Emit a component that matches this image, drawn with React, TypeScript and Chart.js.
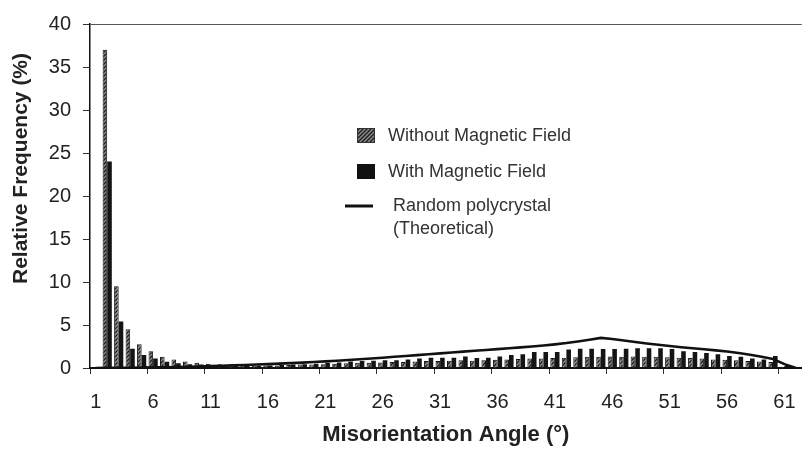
import React, { useEffect, useRef } from 'react';
import { Chart, registerables } from 'chart.js';

Chart.register(...registerables);

// ---------- data ----------
const angleLabels = [
  '1', '2', '3', '4', '5', '6', '7', '8', '9', '10',
  '11', '12', '13', '14', '15', '16', '17', '18', '19', '20',
  '21', '22', '23', '24', '25', '26', '27', '28', '29', '30',
  '31', '32', '33', '34', '35', '36', '37', '38', '39', '40',
  '41', '42', '43', '44', '45', '46', '47', '48', '49', '50',
  '51', '52', '53', '54', '55', '56', '57', '58', '59', '60',
  '61', '62',
];

const withoutField = [
  0, 37.0, 9.5, 4.5, 2.75, 1.95, 1.3, 1.0, 0.75, 0.6,
  0.5, 0.45, 0.4, 0.35, 0.3, 0.3, 0.3, 0.35, 0.4, 0.4,
  0.45, 0.5, 0.55, 0.6, 0.6, 0.65, 0.7, 0.7, 0.75, 0.8,
  0.8, 0.85, 0.9, 0.85, 0.9, 0.95, 1.0, 1.05, 1.1, 1.1,
  1.15, 1.2, 1.25, 1.3, 1.3, 1.35, 1.3, 1.35, 1.3, 1.3,
  1.25, 1.2, 1.15, 1.1, 1.0, 0.95, 0.9, 0.8, 0.75, 0.7,
  0.15, 0,
];

const withField = [
  0, 24.0, 5.4, 2.25, 1.5, 1.1, 0.72, 0.55, 0.45, 0.4,
  0.35, 0.3, 0.3, 0.25, 0.25, 0.3, 0.35, 0.4, 0.45, 0.5,
  0.6, 0.65, 0.75, 0.8, 0.85, 0.9, 0.9, 1.0, 1.1, 1.2,
  1.2, 1.2, 1.35, 1.15, 1.2, 1.35, 1.5, 1.6, 1.85, 1.85,
  1.85, 2.15, 2.25, 2.25, 2.2, 2.2, 2.25, 2.3, 2.3, 2.3,
  2.2, 1.95, 1.85, 1.75, 1.6, 1.4, 1.3, 1.1, 1.0, 1.4,
  0.25, 0,
];

const randomPolycrystal = [
  0, 0.01, 0.02, 0.03, 0.05, 0.07, 0.09, 0.12, 0.15, 0.18,
  0.22, 0.26, 0.3, 0.35, 0.4, 0.45, 0.51, 0.57, 0.63, 0.7,
  0.77, 0.85, 0.93, 1.01, 1.1, 1.2, 1.3, 1.4, 1.5, 1.6,
  1.7, 1.8, 1.9, 2.0, 2.1, 2.2, 2.3, 2.4, 2.5, 2.62,
  2.75, 2.9, 3.08, 3.28, 3.5, 3.38, 3.2, 3.02, 2.85, 2.7,
  2.55, 2.42, 2.3, 2.18, 2.05, 1.92, 1.75, 1.55, 1.3, 1.05,
  0.45, 0,
];

const yMin = 0;
const yMax = 40;
const yStep = 5;

const xTitle = 'Misorientation Angle (°)';
const yTitle = 'Relative Frequency (%)';
const seriesNames = ['Without Magnetic Field', 'With Magnetic Field', 'Random polycrystal', '(Theoretical)'];

const FONT = '"Liberation Sans", Arial, Helvetica, sans-serif';

function makeHatch(ctx: CanvasRenderingContext2D): CanvasPattern | string {
  const p = document.createElement('canvas');
  p.width = 4;
  p.height = 4;
  const c = p.getContext('2d');
  if (!c) return '#666';
  c.fillStyle = '#8c8c8c';
  c.fillRect(0, 0, 4, 4);
  c.strokeStyle = '#1e1e1e';
  c.lineWidth = 1.4;
  c.beginPath();
  c.moveTo(0, 4);
  c.lineTo(4, 0);
  c.moveTo(-1, 1);
  c.lineTo(1, -1);
  c.moveTo(3, 5);
  c.lineTo(5, 3);
  c.stroke();
  return ctx.createPattern(p, 'repeat') || '#666';
}

export default function App() {
  const ref = useRef<HTMLCanvasElement>(null);

  useEffect(() => {
    const canvas = ref.current;
    if (!canvas) return;
    const ctx = canvas.getContext('2d');
    if (!ctx) return;
    const hatch = makeHatch(ctx);

    const overlay = {
      id: 'overlay',
      afterDraw(chart: any) {
        const c: CanvasRenderingContext2D = chart.ctx;
        // y axis title
        c.save();
        c.translate(21, 168.5);
        c.rotate(-Math.PI / 2);
        c.font = `bold 21px ${FONT}`;
        c.fillStyle = '#222';
        c.textAlign = 'center';
        c.textBaseline = 'middle';
        c.fillText(yTitle, 0, 0);
        c.restore();

        // legend
        c.save();
        c.fillStyle = hatch as any;
        c.fillRect(357, 128, 18, 15);
        c.strokeStyle = '#333';
        c.lineWidth = 1;
        c.strokeRect(357.5, 128.5, 17, 14);
        c.fillStyle = '#111';
        c.fillRect(357, 164, 18, 15);
        c.strokeStyle = '#111';
        c.lineWidth = 3;
        c.beginPath();
        c.moveTo(345, 206);
        c.lineTo(373, 206);
        c.stroke();
        c.font = `18px ${FONT}`;
        c.fillStyle = '#333';
        c.textAlign = 'left';
        c.textBaseline = 'middle';
        c.fillText(seriesNames[0], 388, 136);
        c.fillText(seriesNames[1], 388, 172);
        c.fillText(seriesNames[2], 393, 206);
        c.fillText(seriesNames[3], 393, 229);
        c.restore();
      },
    };

    const chart = new Chart(canvas, {
      type: 'bar',
      data: {
        labels: angleLabels,
        datasets: [
          {
            type: 'line',
            label: seriesNames[2],
            data: randomPolycrystal,
            borderColor: '#111',
            borderWidth: 2.6,
            pointRadius: 0,
            tension: 0,
            fill: false,
            order: 0,
          } as any,
          {
            type: 'bar',
            label: seriesNames[0],
            data: withoutField,
            backgroundColor: hatch as any,
            borderColor: '#151515',
            borderWidth: 1,
            categoryPercentage: 0.8,
            barPercentage: 1.0,
            order: 1,
          },
          {
            type: 'bar',
            label: seriesNames[1],
            data: withField,
            backgroundColor: '#141414',
            borderColor: '#141414',
            borderWidth: 0,
            categoryPercentage: 0.8,
            barPercentage: 1.0,
            order: 1,
          },
        ],
      },
      options: {
        responsive: false,
        maintainAspectRatio: false,
        devicePixelRatio: 1,
        animation: false,
        layout: { padding: { left: 0, top: 18, right: 3, bottom: 0 } },
        plugins: {
          legend: { display: false },
          tooltip: { enabled: false },
        },
        scales: {
          x: {
            type: 'category',
            offset: true,
            grid: {
              offset: true,
              drawOnChartArea: false,
              drawTicks: true,
              tickLength: 6,
              lineWidth: 1,
              color: (c: any) => (c.index % 5 === 0 ? '#333' : 'rgba(0,0,0,0)'),
              tickColor: (c: any) => (c.index % 5 === 0 ? '#333' : 'rgba(0,0,0,0)'),
            },
            border: { display: true, color: '#111', width: 2 },
            ticks: {
              autoSkip: false,
              maxRotation: 0,
              minRotation: 0,
              padding: 16,
              color: '#222',
              font: { family: FONT, size: 20 },
              callback: (_v: any, i: number) => (i % 5 === 0 ? angleLabels[i] : ''),
            },
            title: {
              display: true,
              text: xTitle,
              color: '#222',
              font: { family: FONT, size: 22, weight: 'bold' },
              padding: { top: 0, bottom: 3 },
            },
            afterFit: (s: any) => {
              s.height = 83;
            },
          },
          y: {
            min: yMin,
            max: yMax,
            grid: {
              drawOnChartArea: true,
              drawTicks: true,
              tickLength: 7,
              lineWidth: 1,
              color: (c: any) => (c.tick && c.tick.value === yMax ? '#555' : 'rgba(0,0,0,0)'),
              tickColor: '#333',
            },
            border: { display: true, color: '#111', width: 1.5 },
            ticks: {
              stepSize: yStep,
              padding: 12,
              color: '#222',
              font: { family: FONT, size: 20 },
            },
            afterFit: (s: any) => {
              s.width = 90;
            },
          },
        },
      } as any,
      plugins: [overlay],
    });

    return () => chart.destroy();
  }, []);

  return (
    <div
      style={{
        position: 'fixed',
        left: 0,
        top: 0,
        width: 803,
        height: 451,
        overflow: 'hidden',
        background: '#fff',
      }}
    >
      <canvas ref={ref} width={812} height={451} style={{ display: 'block', width: 812, height: 451 }} />
    </div>
  );
}
